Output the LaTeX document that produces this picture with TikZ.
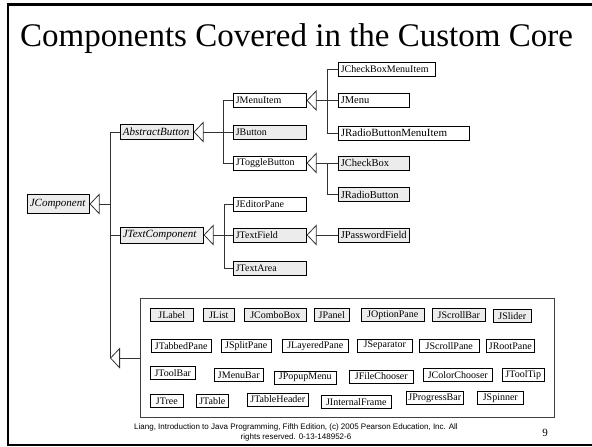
\documentclass[tikz,border=0pt]{standalone}
\usepackage{fontspec}
\setmainfont{Liberation Serif}
\newfontfamily\footfont{Liberation Sans}
\usetikzlibrary{arrows.meta,shadows}

\definecolor{boxgray}{RGB}{236,236,236}
\definecolor{wiregray}{RGB}{50,50,50}

\begin{document}
\begin{tikzpicture}[x=1pt,y=-1pt,
  shade box/.style={drop shadow={shadow xshift=0.9pt,shadow yshift=-0.9pt,opacity=1,fill=black!55}},
  cls/.style={draw=black, line width=0.6pt, fill=white, shade box, anchor=west,
    inner xsep=2.5pt, inner ysep=0pt, minimum height=14pt, align=left,
    font=\fontsize{10}{12}\selectfont},
  abs/.style={cls, fill=boxgray, font=\fontsize{11}{13}\selectfont\itshape},
  filled/.style={fill=boxgray},
  item/.style={draw=black, line width=0.6pt, fill=white, shade box, anchor=west,
    inner xsep=2pt, inner ysep=0pt, minimum height=13pt, minimum width=#1pt,
    font=\fontsize{10}{12}\selectfont},
  wire/.style={draw=wiregray, line width=0.8pt},
  gen/.style={wire, -{Triangle[open,length=10pt,width=21pt]}}
]
\useasboundingbox (0,0) rectangle (592,447);

% slide frame
\draw[line width=2.5pt] (592,4.5) -- (8,4.5) -- (8,445) -- (592,445);

% title
\node[anchor=base west, inner sep=0pt, font=\fontsize{33}{38}\selectfont] (title) at (20,46)
  {Components Covered in the Custom Core};

% bus positions
\coordinate (b0) at (110,0);
\coordinate (b1) at (223,0);
\coordinate (b2) at (224,0);
\coordinate (b3) at (327,0);

% abstract classes
\node[abs, minimum height=19pt, text width=57pt] (jcomp) at (27,204) {JComponent};
\node[abs, minimum height=15pt, text width=68pt] (ab) at (120,132) {AbstractButton};
\node[abs, minimum height=16pt, text width=78pt] (jtc) at (120,235) {JTextComponent};

% first level subclasses
\node[cls, text width=68pt] (jmi) at (233,100.5) {JMenuItem};
\node[cls, filled, text width=68pt] (jbtn) at (233,132) {JButton};
\node[cls, text width=68pt] (jtb) at (233,163) {JToggleButton};
\node[cls, text width=68pt] (jep) at (233,204) {JEditorPane};
\node[cls, filled, text width=68pt] (jtf) at (233,235) {JTextField};
\node[cls, filled, text width=68pt] (jta) at (233,268) {JTextArea};

% second level subclasses
\node[cls, text width=92pt] (jcbmi) at (338,69) {JCheckBoxMenuItem};
\node[cls, text width=66pt, font=\fontsize{10.5}{12}\selectfont] (jmenu) at (338,100.5) {JMenu};
\node[cls, text width=126pt, font=\fontsize{11}{13}\selectfont] (jrbmi) at (338,133) {JRadioButtonMenuItem};
\node[cls, filled, text width=66pt, font=\fontsize{10.5}{12}\selectfont] (jcb) at (338,163) {JCheckBox};
\node[cls, filled, text width=66pt, font=\fontsize{10.5}{12}\selectfont] (jrb) at (338,194.5) {JRadioButton};
\node[cls, filled, text width=66pt, font=\fontsize{10.5}{12}\selectfont] (jpf) at (338,235) {JPasswordField};

% container of the remaining components
\node[draw=black!75, line width=1.2pt, fill=white, anchor=north west,
  minimum width=414pt, minimum height=119pt, inner sep=0pt] (core) at (140,298) {};

% row 1
\node[item=43, filled] (jlabel) at (150,315) {JLabel};
\node[item=31, filled] (jlist) at (203,315) {JList};
\node[item=62, filled] (jcombo) at (244,315) {JComboBox};
\node[item=35, filled] (jpanel) at (314,315) {JPanel};
\node[item=63, filled] (jopt) at (361,315) {JOptionPane};
\node[item=53, filled] (jsbar) at (432,315) {JScrollBar};
\node[item=38, filled] (jslider) at (493,316) {JSlider};
% row 2
\node[item=60] (jtabbed) at (151,346) {JTabbedPane};
\node[item=50] (jsplit) at (221,346) {JSplitPane};
\node[item=66] (jlayered) at (282,346) {JLayeredPane};
\node[item=55] (jsep) at (357,345.5) {JSeparator};
\node[item=60] (jspane) at (419,346) {JScrollPane};
\node[item=48] (jroot) at (486,346) {JRootPane};
% row 3
\node[item=45] (jtoolbar) at (150,373) {JToolBar};
\node[item=49] (jmenubar) at (214,375) {JMenuBar};
\node[item=62] (jpopup) at (274,377.5) {JPopupMenu};
\node[item=64] (jfile) at (349,376.5) {JFileChooser};
\node[item=69] (jcolor) at (423,375) {JColorChooser};
\node[item=42] (jtip) at (502,375) {JToolTip};
% row 4
\node[item=33] (jtree) at (150,401) {JTree};
\node[item=32] (jtable) at (196,401) {JTable};
\node[item=61] (jthead) at (247,399.5) {JTableHeader};
\node[item=70] (jiframe) at (321,402) {JInternalFrame};
\node[item=57] (jprog) at (406,398) {JProgressBar};
\node[item=46] (jspin) at (477,398) {JSpinner};

% JComponent hierarchy
\draw[wire] (ab.west) -- (ab.west -| b0) -- (core.west -| b0);
\draw[wire] (jtc.west) -- (jtc.west -| b0);
\draw[gen] (jcomp.east -| b0) -- (jcomp.east);
\draw[gen] (core.west) -- (core.west -| b0);

% AbstractButton hierarchy
\draw[wire] (jmi.west) -- (jmi.west -| b1) -- (jtb.west -| b1) -- (jtb.west);
\draw[wire] (jbtn.west) -- (jbtn.west -| b1);
\draw[gen] (ab.east -| b1) -- (ab.east);

% JTextComponent hierarchy
\draw[wire] (jep.west) -- (jep.west -| b2) -- (jta.west -| b2) -- (jta.west);
\draw[wire] (jtf.west) -- (jtf.west -| b2);
\draw[gen] (jtc.east -| b2) -- (jtc.east);

% JMenuItem hierarchy
\draw[wire] (jcbmi.west) -- (jcbmi.west -| b3) -- (jrbmi.west -| b3) -- (jrbmi.west);
\draw[wire] (jmenu.west) -- (jmenu.west -| b3);
\draw[gen] (jmi.east -| b3) -- (jmi.east);

% JToggleButton hierarchy
\draw[wire] (jcb.west) -- (jcb.west -| b3) -- (jrb.west -| b3) -- (jrb.west);
\draw[gen] (jtb.east -| b3) -- (jtb.east);

% JTextField hierarchy
\draw[gen] (jpf.west) -- (jtf.east);

% footer
\node[align=center, inner sep=0pt, font=\footfont\fontsize{8}{10}\selectfont] (foot) at (296,432)
  {Liang, Introduction to Java Programming, Fifth Edition, (c) 2005 Pearson Education, Inc. All\\
   rights reserved. 0-13-148952-6};
\node[inner sep=0pt, font=\fontsize{11}{13}\selectfont] (pageno) at (545,433) {9};
\end{tikzpicture}
\end{document}
